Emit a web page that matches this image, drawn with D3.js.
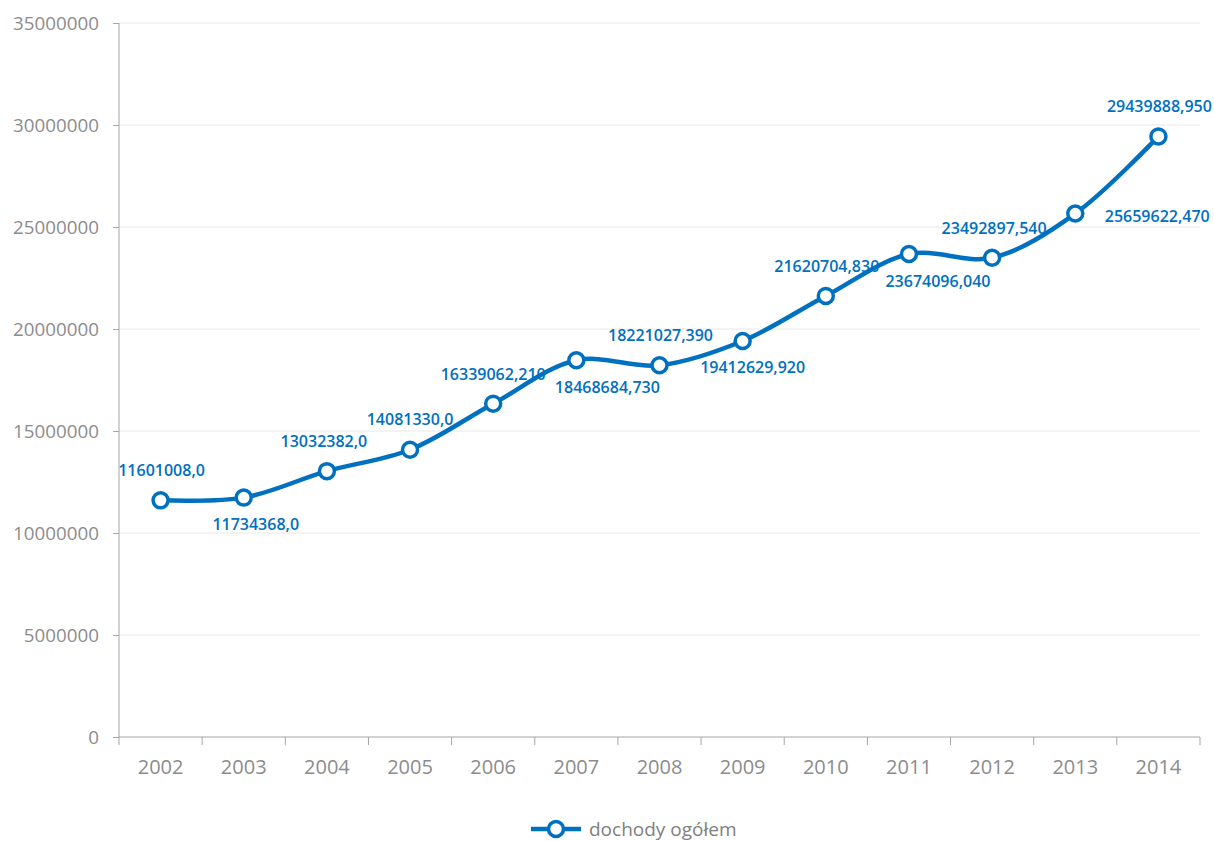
<!DOCTYPE html>
<html><head><meta charset="utf-8">
<script src="https://cdn.jsdelivr.net/npm/d3@7/dist/d3.min.js"></script>
<style>
body{margin:0;background:#fff;}
svg{display:block;}
</style></head>
<body><svg id="c" width="1214" height="841"></svg>
<script>
const years = ["2002","2003","2004","2005","2006","2007","2008","2009","2010","2011","2012","2013","2014"];
const values = [11601008.0, 11734368.0, 13032382.0, 14081330.0, 16339062.21, 18468684.73, 18221027.39, 19412629.92, 21620704.83, 23674096.04, 23492897.54, 25659622.47, 29439888.95];
const labels = ["11601008,0","11734368,0","13032382,0","14081330,0","16339062,210","18468684,730","18221027,390","19412629,920","21620704,830","23674096,040","23492897,540","25659622,470","29439888,950"];
const yTicks = [0,5000000,10000000,15000000,20000000,25000000,30000000,35000000];
const seriesName = "dochody ogółem";
// label placement (style): offsets relative to point
const labelDx = [1,12,-3,0,0,31,1,10,1,29,2,82,1];
const labelDy = [-30,26,-30,-31,-30,27,-30,26,-30,27,-30,2,-30];

const blue = "#0070c0";
const svg = d3.select("#c");
const mLeft = 119, mRight = 1200, mTop = 23, mBottom = 737;

const x = d3.scaleBand().domain(years).range([mLeft, mRight]);
const y = d3.scaleLinear().domain([0, 35000000]).range([mBottom, mTop]);

// gridlines
svg.append("g").selectAll("line").data(yTicks.filter(d=>d>0)).join("line")
  .attr("x1", mLeft).attr("x2", mRight)
  .attr("y1", d=>y(d)).attr("y2", d=>y(d))
  .attr("stroke", "#e8e8e8").attr("stroke-width", 1);

// y axis
const yAxis = svg.append("g").attr("transform", `translate(${mLeft},0)`)
  .call(d3.axisLeft(y).tickValues(yTicks).tickFormat(d=>String(d)).tickSize(6).tickPadding(14));
yAxis.select(".domain").attr("stroke", "#a6a6a6").attr("d", `M0,${mTop}V${mBottom}`);
yAxis.selectAll(".tick line").attr("stroke", "#a6a6a6");
yAxis.selectAll(".tick text").attr("fill", "#8c8c8c").style("font-family","'Open Sans', sans-serif").style("font-size","18.8px");

// x axis
const xAxis = svg.append("g").attr("transform", `translate(0,${mBottom})`)
  .call(d3.axisBottom(x).tickSize(0).tickPadding(23));
xAxis.select(".domain").attr("stroke", "#a6a6a6").attr("d", `M${mLeft},0H${mRight}`);
xAxis.selectAll(".tick text").attr("fill", "#8c8c8c").style("font-family","'Open Sans', sans-serif").style("font-size","20px");
xAxis.append("g").selectAll("line").data(years).join("line")
  .attr("x1", d=>x(d)).attr("x2", d=>x(d)).attr("y1", 0).attr("y2", 8)
  .attr("stroke", "#a6a6a6");
xAxis.append("line").attr("x1", mRight).attr("x2", mRight).attr("y1", 0).attr("y2", 8).attr("stroke", "#a6a6a6");

const cx = d => x(d) + x.bandwidth()/2;
const pts = years.map((yr,i)=>[cx(yr), y(values[i])]);

svg.append("path").datum(pts)
  .attr("d", d3.line().curve(d3.curveCatmullRom.alpha(0.5)))
  .attr("fill","none").attr("stroke", blue).attr("stroke-width", 4.5).attr("stroke-linecap","round");

svg.append("g").selectAll("circle").data(pts).join("circle")
  .attr("cx", d=>d[0]).attr("cy", d=>d[1]).attr("r", 7.5)
  .attr("fill","#fff").attr("stroke", blue).attr("stroke-width", 3.5);

svg.append("g").selectAll("text").data(labels).join("text")
  .attr("x", (d,i)=>pts[i][0] + labelDx[i])
  .attr("y", (d,i)=>pts[i][1] + labelDy[i])
  .attr("text-anchor","middle").attr("dominant-baseline","central")
  .attr("fill", blue)
  .style("font-family","'Open Sans', sans-serif").style("font-weight","600").style("font-size","16px")
  .text(d=>d);

// legend
const lg = svg.append("g").attr("transform","translate(531,829)");
lg.append("line").attr("x1",0).attr("x2",50).attr("y1",0).attr("y2",0).attr("stroke",blue).attr("stroke-width",4.5);
lg.append("circle").attr("cx",25).attr("cy",0).attr("r",7.5).attr("fill","#fff").attr("stroke",blue).attr("stroke-width",3.5);
lg.append("text").attr("x",58).attr("y",0).attr("dominant-baseline","central")
  .attr("fill","#808080").style("font-family","'Open Sans', sans-serif").style("font-size","19px").text(seriesName);
</script>
</body></html>
